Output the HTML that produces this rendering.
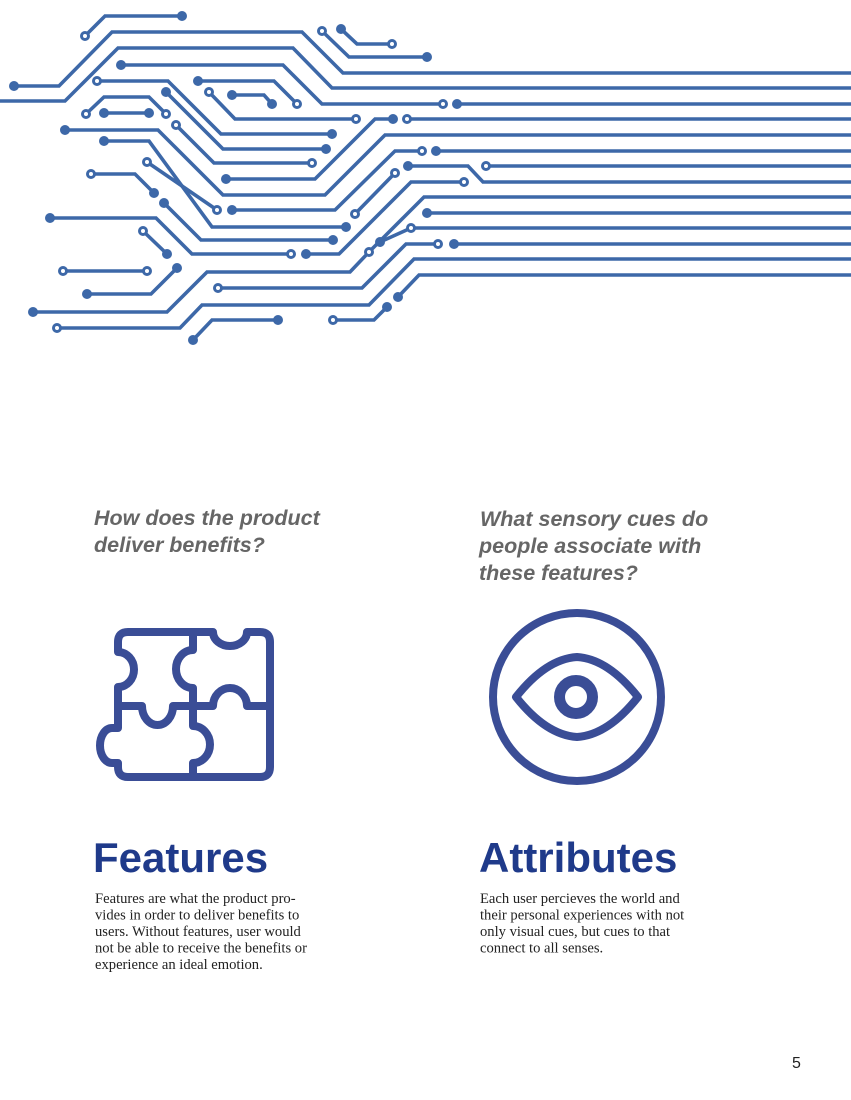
<!DOCTYPE html>
<html><head><meta charset="utf-8"><style>
html,body{margin:0;padding:0;background:#fff;}
svg{display:block;}
.h{font-family:"Liberation Sans",sans-serif;font-weight:bold;font-style:italic;font-size:21.5px;fill:#666;}
.t{font-family:"Liberation Sans",sans-serif;font-weight:bold;font-size:42px;fill:#1f3a8a;}
.b{font-family:"Liberation Serif",serif;font-size:14.6px;fill:#222;}
</style></head><body>
<svg width="851" height="1100" viewBox="0 0 851 1100" xmlns="http://www.w3.org/2000/svg">
<g fill="none" stroke="#3d68a8" stroke-width="3.6" stroke-linejoin="miter">
<polyline points="85,36 105,16 182,16"/>
<polyline points="14,86 59,86 112,32 302,32 343,73 851,73"/>
<polyline points="0,101 65,101 118,48 293,48 332,88 851,88"/>
<polyline points="121,65 283,65 322,104 443,104"/>
<polyline points="457,104 851,104"/>
<polyline points="97,81 168,81 221,134 332,134"/>
<polyline points="198,81 274,81 297,104"/>
<polyline points="209,92 235,119 356,119"/>
<polyline points="232,95 264,95 272,104"/>
<polyline points="86,114 104,97 149,97 166,114"/>
<polyline points="104,113 149,113"/>
<polyline points="166,92 223,149 326,149"/>
<polyline points="176,125 214,163 312,163"/>
<polyline points="65,130 158,130 223,195 325,195 385,135 851,135"/>
<polyline points="393,119 375,119 315,179 226,179"/>
<polyline points="407,119 851,119"/>
<polyline points="104,141 149,141 212,227 346,227"/>
<polyline points="147,162 217,210"/>
<polyline points="232,210 335,210 395,151 422,151"/>
<polyline points="436,151 851,151"/>
<polyline points="408,166 468,166 483,182 851,182"/>
<polyline points="486,166 851,166"/>
<polyline points="91,174 135,174 154,193"/>
<polyline points="164,203 201,240 333,240"/>
<polyline points="395,173 355,214"/>
<polyline points="464,182 411,182 339,254 306,254"/>
<polyline points="50,218 156,218 192,254 291,254"/>
<polyline points="143,231 167,254"/>
<polyline points="851,197 424,197 369,252 350,272 207,272 167,312 33,312"/>
<polyline points="427,213 851,213"/>
<polyline points="411,228 851,228"/>
<polyline points="380,242 411,228"/>
<polyline points="438,244 406,244 362,288 218,288"/>
<polyline points="454,244 851,244"/>
<polyline points="851,259 414,259 369,305 202,305 180,328 57,328"/>
<polyline points="851,275 419,275 398,297"/>
<polyline points="63,271 147,271"/>
<polyline points="87,294 151,294 177,268"/>
<polyline points="193,340 212,320 278,320"/>
<polyline points="333,320 374,320 387,307"/>
<polyline points="322,31 349,57 427,57"/>
<polyline points="341,29 357,44 392,44"/>
</g>
<g fill="#3d68a8">
<circle cx="182" cy="16" r="5"/><circle cx="14" cy="86" r="5"/><circle cx="121" cy="65" r="5"/><circle cx="457" cy="104" r="5"/>
<circle cx="332" cy="134" r="5"/><circle cx="198" cy="81" r="5"/><circle cx="232" cy="95" r="5"/><circle cx="272" cy="104" r="5"/>
<circle cx="104" cy="113" r="5"/><circle cx="149" cy="113" r="5"/><circle cx="166" cy="92" r="5"/><circle cx="326" cy="149" r="5"/>
<circle cx="65" cy="130" r="5"/><circle cx="393" cy="119" r="5"/><circle cx="226" cy="179" r="5"/><circle cx="104" cy="141" r="5"/>
<circle cx="346" cy="227" r="5"/><circle cx="232" cy="210" r="5"/><circle cx="436" cy="151" r="5"/><circle cx="408" cy="166" r="5"/>
<circle cx="154" cy="193" r="5"/><circle cx="164" cy="203" r="5"/><circle cx="333" cy="240" r="5"/><circle cx="306" cy="254" r="5"/>
<circle cx="50" cy="218" r="5"/><circle cx="167" cy="254" r="5"/><circle cx="33" cy="312" r="5"/><circle cx="427" cy="213" r="5"/>
<circle cx="380" cy="242" r="5"/><circle cx="454" cy="244" r="5"/><circle cx="398" cy="297" r="5"/><circle cx="87" cy="294" r="5"/>
<circle cx="177" cy="268" r="5"/><circle cx="193" cy="340" r="5"/><circle cx="278" cy="320" r="5"/><circle cx="387" cy="307" r="5"/>
<circle cx="427" cy="57" r="5"/><circle cx="341" cy="29" r="5"/>
</g>
<g fill="#fff" stroke="#3d68a8" stroke-width="3">
<circle cx="85" cy="36" r="3.5"/><circle cx="443" cy="104" r="3.5"/><circle cx="97" cy="81" r="3.5"/><circle cx="297" cy="104" r="3.5"/>
<circle cx="209" cy="92" r="3.5"/><circle cx="356" cy="119" r="3.5"/><circle cx="86" cy="114" r="3.5"/><circle cx="166" cy="114" r="3.5"/>
<circle cx="176" cy="125" r="3.5"/><circle cx="312" cy="163" r="3.5"/><circle cx="407" cy="119" r="3.5"/><circle cx="147" cy="162" r="3.5"/>
<circle cx="217" cy="210" r="3.5"/><circle cx="422" cy="151" r="3.5"/><circle cx="486" cy="166" r="3.5"/><circle cx="91" cy="174" r="3.5"/>
<circle cx="395" cy="173" r="3.5"/><circle cx="355" cy="214" r="3.5"/><circle cx="464" cy="182" r="3.5"/><circle cx="291" cy="254" r="3.5"/>
<circle cx="143" cy="231" r="3.5"/><circle cx="369" cy="252" r="3.5"/><circle cx="411" cy="228" r="3.5"/><circle cx="438" cy="244" r="3.5"/>
<circle cx="218" cy="288" r="3.5"/><circle cx="57" cy="328" r="3.5"/><circle cx="63" cy="271" r="3.5"/><circle cx="147" cy="271" r="3.5"/>
<circle cx="333" cy="320" r="3.5"/><circle cx="322" cy="31" r="3.5"/><circle cx="392" cy="44" r="3.5"/>
</g>

<text class="h" x="94" y="525">How does the product</text>
<text class="h" x="94" y="552">deliver benefits?</text>
<text class="h" x="480" y="526">What sensory cues do</text>
<text class="h" x="479" y="553">people associate with</text>
<text class="h" x="479" y="580">these features?</text>

<g fill="none" stroke="#3a4d96" stroke-width="8" stroke-linejoin="round" stroke-linecap="round">
<path d="M128,632 H213 A17,14 0 0 0 247,632 H260 Q270,632 270,642 V767 Q270,777 260,777 H128 Q118,777 118,767 V763 H112 A12,17.5 0 0 1 112,728 H118 V687 A16,17.5 0 0 0 118,652 V642 Q118,632 128,632 Z"/>
<path d="M193,632 V650 A17,19 0 0 0 193,688 V706"/>
<path d="M193,706 V726 A17,18.5 0 0 1 193,763 V777"/>
<path d="M118,706 H142 A15.5,19 0 0 0 173,706 H213 A17,18 0 0 1 247,706 H270"/>
<circle cx="577" cy="697" r="84"/>
<path d="M516,697 Q546,659 577,657 Q608,659 638,697 Q608,735 577,737 Q546,735 516,697 Z"/>
</g>
<circle cx="576" cy="697" r="16.5" fill="none" stroke="#3a4d96" stroke-width="11"/>

<text class="t" x="93" y="872">Features</text>
<text class="t" x="479" y="872">Attributes</text>

<g class="b">
<text x="95" y="903">Features are what the product pro-</text>
<text x="95" y="919.5">vides in order to deliver benefits to</text>
<text x="95" y="936">users. Without features, user would</text>
<text x="95" y="952.5">not be able to receive the benefits or</text>
<text x="95" y="969">experience an ideal emotion.</text>
<text x="480" y="903">Each user percieves the world and</text>
<text x="480" y="919.5">their personal experiences with not</text>
<text x="480" y="936">only visual cues, but cues to that</text>
<text x="480" y="952.5">connect to all senses.</text>
</g>
<text x="792" y="1068" style="font-family:'Liberation Sans',sans-serif;font-size:16px;fill:#222;">5</text>
</svg>
</body></html>
